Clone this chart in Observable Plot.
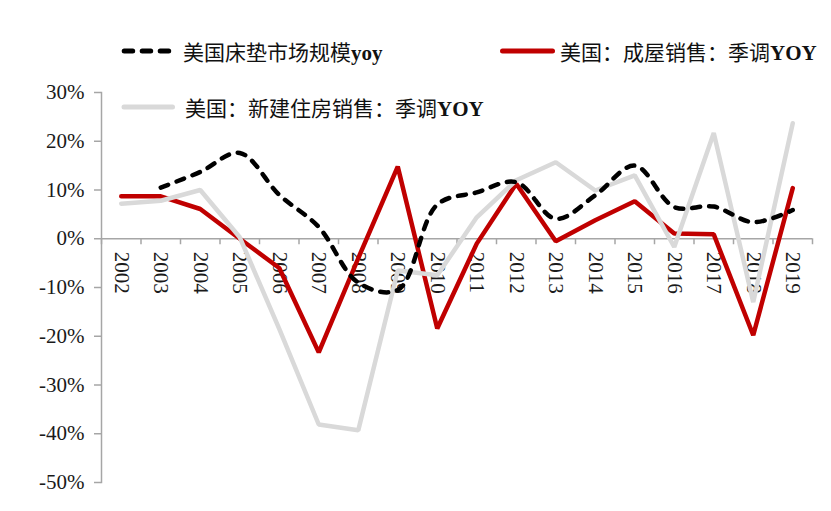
<!DOCTYPE html>
<html>
<head>
<meta charset="utf-8">
<script src="https://cdn.jsdelivr.net/npm/d3@7"></script>
<script src="https://cdn.jsdelivr.net/npm/@observablehq/plot@0.6"></script>
<style>
  html, body { margin: 0; padding: 0; background: #fff; }
  #wrap { position: relative; width: 831px; height: 511px; overflow: hidden; }
  #chart { position: absolute; left: 0; top: 0; }
  .lg { position: absolute; height: 30px; display: flex; align-items: center; white-space: nowrap;
        font-family: "Noto Sans CJK SC", sans-serif; font-size: 21px; color: #111; }
  .lg svg { display: block; }
  .lat { font-family: "Liberation Serif", serif; font-weight: bold; letter-spacing: 0; }
</style>
</head>
<body>
<div id="wrap">
  <div id="chart"></div>
  <div class="lg" style="left:119px; top:36px;">
    <svg width="56" height="30"><line x1="5.2" x2="50.2" y1="15" y2="15" stroke="#000" stroke-width="5" stroke-linecap="round" stroke-dasharray="8.5,9.5"/></svg>
    <span style="margin-left:8px;">美国床垫市场规模<span class="lat">yoy</span></span>
  </div>
  <div class="lg" style="left:498px; top:36px;">
    <svg width="60" height="30"><line x1="4.5" x2="54.5" y1="15" y2="15" stroke="#C00000" stroke-width="5" stroke-linecap="round"/></svg>
    <span style="margin-left:2px;">美国：成屋销售：季调<span class="lat">YOY</span></span>
  </div>
  <div class="lg" style="left:119px; top:92px;">
    <svg width="58" height="30"><line x1="5" x2="53.5" y1="15" y2="15" stroke="#D9D9D9" stroke-width="5" stroke-linecap="round"/></svg>
    <span style="margin-left:8px;">美国：新建住房销售：季调<span class="lat">YOY</span></span>
  </div>
</div>
<script>
const years = [2002, 2003, 2004, 2005, 2006, 2007, 2008, 2009, 2010, 2011, 2012, 2013, 2014, 2015, 2016, 2017, 2018, 2019];
// 美国床垫市场规模yoy (%)
const mattressYoy = [null, 10.5, 13.7, 17.6, 9.0, 2.4, -9.0, -10.5, 7.0, 9.5, 11.6, 4.1, 8.9, 15.0, 6.5, 6.6, 3.4, 5.9];
// 美国：成屋销售：季调YOY (%)
const existingHomeSales = [8.7, 8.7, 6.1, 0.0, -6.0, -23.3, -4.0, 14.8, -18.4, -1.0, 11.3, -0.5, 3.8, 7.7, 1.1, 0.9, -19.8, 10.4];
// 美国：新建住房销售：季调YOY (%)
const newHomeSales = [7.2, 7.8, 10.0, 0.3, -18.5, -38.1, -39.3, -6.5, -7.5, 4.4, 12.0, 15.7, 9.9, 13.0, -1.7, 21.7, -13.0, 23.7];
const yTicks = [-50, -40, -30, -20, -10, 0, 10, 20, 30];

const rows = years.map((year, i) => ({
  year,
  mattress: mattressYoy[i],
  existing: existingHomeSales[i],
  newHome: newHomeSales[i]
}));
const boundaries = years.map(y => y - 0.5).concat([years[years.length - 1] + 0.5]);

const axisGray = "#a6a6a6";
const textColor = "#1a1a1a";

const chart = Plot.plot({
  width: 831,
  height: 511,
  marginTop: 92,
  marginBottom: 29,
  marginLeft: 101,
  marginRight: 19,
  style: { background: "transparent", fontFamily: "Liberation Serif, serif", fontSize: "21px", color: textColor },
  x: { domain: [years[0] - 0.5, years[years.length - 1] + 0.5], axis: null },
  y: { domain: [-50, 30], axis: null },
  marks: [
    Plot.frame({ anchor: "left", stroke: axisGray, strokeWidth: 1.5 }),
    Plot.axisY({
      ticks: yTicks,
      tickFormat: d => d + "%",
      tickSize: 7,
      tickPadding: 10,
      stroke: axisGray,
      strokeWidth: 1.5,
      fill: textColor,
      fontSize: 21,
      label: null
    }),
    Plot.ruleY([0], { stroke: axisGray, strokeWidth: 1.5 }),
    Plot.ruleX(boundaries, { x: d => d, y1: 0, y2: 0, insetBottom: -6, stroke: axisGray, strokeWidth: 1.5 }),
    Plot.text(years, {
      x: d => d, y: 0, text: d => String(d),
      rotate: 90, textAnchor: "start", dy: 13,
      fontSize: 21, fill: textColor
    }),
    Plot.line(rows, {
      x: "year", y: "existing",
      stroke: "#C00000", strokeWidth: 4.5, strokeLinejoin: "miter"
    }),
    Plot.line(rows, {
      x: "year", y: "newHome",
      stroke: "#D9D9D9", strokeWidth: 4.5, strokeLinejoin: "miter"
    }),
    Plot.line(rows.filter(d => d.mattress != null), {
      x: "year", y: "mattress",
      curve: "catmull-rom",
      stroke: "#000", strokeWidth: 4.5, strokeLinecap: "round",
      strokeDasharray: "8,9"
    })
  ]
});
document.getElementById("chart").appendChild(chart);
</script>
</body>
</html>
